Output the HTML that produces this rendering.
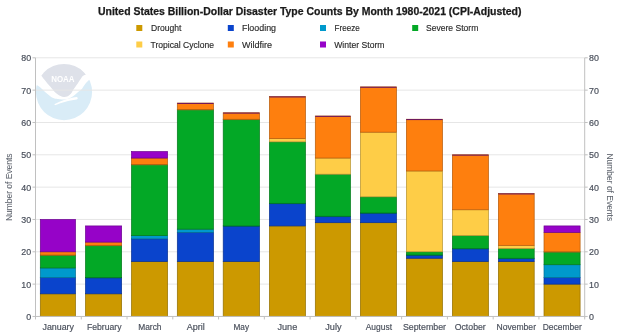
<!DOCTYPE html>
<html><head><meta charset="utf-8">
<style>
html,body{margin:0;padding:0;background:#fff;width:620px;height:335px;overflow:hidden}
svg{display:block;will-change:transform}
text{font-family:"Liberation Sans",sans-serif}
.title{font-size:10.3px;font-weight:bold;fill:#1a1a1a;stroke:#1a1a1a;stroke-width:0.25px}
.lg{font-size:9.0px;fill:#2a2a2a;stroke:#2a2a2a;stroke-width:0.15px}
.ax{font-size:8.9px;fill:#4a505c;stroke:#4a505c;stroke-width:0.18px}
.xl{font-size:9.1px;fill:#4a505c;stroke:#4a505c;stroke-width:0.18px}
.at{font-size:8.7px;fill:#5a606a;stroke:#5a606a;stroke-width:0.05px}
</style></head><body>
<svg width="620" height="335" viewBox="0 0 620 335">
<rect width="620" height="335" fill="#fff"/>
<defs><clipPath id="lc"><circle cx="64" cy="92.05" r="28.1"/></clipPath></defs>
<g clip-path="url(#lc)">
<path d="M28 130 L100 130 L100 76 L89.4 79.4 C88.80 80.03 86.73 82.10 85.80 83.20 C84.87 84.30 84.55 84.93 83.80 86.00 C83.05 87.07 82.48 88.40 81.30 89.60 C80.12 90.80 78.02 92.13 76.70 93.20 C75.38 94.27 74.60 95.17 73.40 96.00 C72.20 96.83 70.90 97.62 69.50 98.20 C68.10 98.78 66.58 99.32 65.00 99.50 C63.42 99.68 61.38 99.42 60.00 99.30 C58.62 99.17 58.03 99.07 56.70 98.75 C55.37 98.43 53.78 98.41 52.00 97.40 C50.22 96.39 47.93 94.35 46.00 92.70 C44.07 91.05 42.05 88.88 40.40 87.50 C38.75 86.12 36.82 84.92 36.10 84.40 L28 84 Z" fill="#d9ecf7"/>
<path d="M40.3 74.2 A28.1 28.1 0 0 1 86.1 74.4 C85.55 74.67 83.77 75.13 82.80 76.00 C81.83 76.87 81.12 78.40 80.30 79.60 C79.48 80.80 78.72 82.01 77.90 83.20 C77.08 84.39 76.15 85.68 75.40 86.75 C74.65 87.82 74.00 88.64 73.40 89.60 C72.80 90.56 72.40 91.63 71.80 92.50 C71.20 93.37 70.57 94.15 69.80 94.80 C69.03 95.45 68.17 96.05 67.20 96.40 C66.23 96.75 65.12 96.98 64.00 96.90 C62.88 96.82 61.58 96.35 60.50 95.90 C59.42 95.45 58.42 94.82 57.50 94.20 C56.58 93.58 55.80 92.98 55.00 92.20 C54.20 91.42 53.47 90.41 52.70 89.50 C51.93 88.59 51.32 87.80 50.40 86.75 C49.48 85.70 48.22 84.39 47.20 83.20 C46.18 82.01 45.23 80.80 44.30 79.60 C43.37 78.40 42.27 76.90 41.60 76.00 C40.93 75.10 40.52 74.50 40.30 74.20 Z" fill="#dee1e9"/>
<path d="M54.8 104 C58 102.4 61 101.1 64 100 C68 98.8 72 97.8 76.6 97.1 C78.2 97.3 78.2 99.2 76.6 99.6 C72.5 100.2 69 100.8 65.5 101.7 C62 102.6 58.5 104 55.6 105.1 C54.6 105.3 54.2 104.5 54.8 104 Z" fill="#fff"/>
</g>
<text x="51.2" y="82" font-family="Liberation Sans" font-weight="bold" font-size="9.8" fill="#fff" textLength="23.3" lengthAdjust="spacingAndGlyphs">NOAA</text>
<line x1="35.5" y1="284.12" x2="584.7" y2="284.12" stroke="#e6e6e6" stroke-width="1"/>
<line x1="35.5" y1="251.79" x2="584.7" y2="251.79" stroke="#e6e6e6" stroke-width="1"/>
<line x1="35.5" y1="219.45999999999998" x2="584.7" y2="219.45999999999998" stroke="#e6e6e6" stroke-width="1"/>
<line x1="35.5" y1="187.13" x2="584.7" y2="187.13" stroke="#e6e6e6" stroke-width="1"/>
<line x1="35.5" y1="154.79999999999998" x2="584.7" y2="154.79999999999998" stroke="#e6e6e6" stroke-width="1"/>
<line x1="35.5" y1="122.46999999999997" x2="584.7" y2="122.46999999999997" stroke="#e6e6e6" stroke-width="1"/>
<line x1="35.5" y1="90.13999999999999" x2="584.7" y2="90.13999999999999" stroke="#e6e6e6" stroke-width="1"/>
<line x1="35.5" y1="57.81" x2="584.7" y2="57.81" stroke="#e6e6e6" stroke-width="1"/>
<rect x="40.30" y="293.82" width="35.20" height="22.63" fill="#cc9900" stroke="#926e00" stroke-width="0.7"/>
<rect x="40.30" y="277.65" width="35.20" height="16.16" fill="#0a44cc" stroke="#073092" stroke-width="0.7"/>
<rect x="40.30" y="267.95" width="35.20" height="9.70" fill="#0099cc" stroke="#006e92" stroke-width="0.7"/>
<rect x="40.30" y="255.02" width="35.20" height="12.93" fill="#03a826" stroke="#02781b" stroke-width="0.7"/>
<line x1="40.30" y1="255.37" x2="75.50" y2="255.37" stroke="#8b7027" stroke-opacity="0.85" stroke-width="1"/>
<rect x="40.30" y="251.79" width="35.20" height="3.23" fill="#fe7f0e" stroke="#b65b0a" stroke-width="0.7"/>
<rect x="40.30" y="219.46" width="35.20" height="32.33" fill="#9603c8" stroke="#6c0290" stroke-width="0.7"/>
<rect x="85.50" y="293.82" width="36.15" height="22.63" fill="#cc9900" stroke="#926e00" stroke-width="0.7"/>
<rect x="85.50" y="277.65" width="36.15" height="16.16" fill="#0a44cc" stroke="#073092" stroke-width="0.7"/>
<line x1="85.50" y1="278.00" x2="121.65" y2="278.00" stroke="#005470" stroke-opacity="0.85" stroke-width="1"/>
<rect x="85.50" y="245.32" width="36.15" height="32.33" fill="#03a826" stroke="#02781b" stroke-width="0.7"/>
<line x1="85.50" y1="245.67" x2="121.65" y2="245.67" stroke="#8b7027" stroke-opacity="0.85" stroke-width="1"/>
<rect x="85.50" y="242.09" width="36.15" height="3.23" fill="#fe7f0e" stroke="#b65b0a" stroke-width="0.7"/>
<rect x="85.50" y="225.93" width="36.15" height="16.16" fill="#9603c8" stroke="#6c0290" stroke-width="0.7"/>
<rect x="131.50" y="261.49" width="36.10" height="54.96" fill="#cc9900" stroke="#926e00" stroke-width="0.7"/>
<rect x="131.50" y="238.86" width="36.10" height="22.63" fill="#0a44cc" stroke="#073092" stroke-width="0.7"/>
<rect x="131.50" y="235.62" width="36.10" height="3.23" fill="#0099cc" stroke="#006e92" stroke-width="0.7"/>
<rect x="131.50" y="164.50" width="36.10" height="71.13" fill="#03a826" stroke="#02781b" stroke-width="0.7"/>
<line x1="131.50" y1="164.85" x2="167.60" y2="164.85" stroke="#8b7027" stroke-opacity="0.85" stroke-width="1"/>
<rect x="131.50" y="158.03" width="36.10" height="6.47" fill="#fe7f0e" stroke="#b65b0a" stroke-width="0.7"/>
<rect x="131.50" y="151.57" width="36.10" height="6.47" fill="#9603c8" stroke="#6c0290" stroke-width="0.7"/>
<rect x="177.30" y="261.49" width="36.20" height="54.96" fill="#cc9900" stroke="#926e00" stroke-width="0.7"/>
<rect x="177.30" y="232.39" width="36.20" height="29.10" fill="#0a44cc" stroke="#073092" stroke-width="0.7"/>
<rect x="177.30" y="229.16" width="36.20" height="3.23" fill="#0099cc" stroke="#006e92" stroke-width="0.7"/>
<rect x="177.30" y="109.54" width="36.20" height="119.62" fill="#03a826" stroke="#02781b" stroke-width="0.7"/>
<line x1="177.30" y1="109.89" x2="213.50" y2="109.89" stroke="#8b7027" stroke-opacity="0.85" stroke-width="1"/>
<rect x="177.30" y="103.07" width="36.20" height="6.47" fill="#fe7f0e" stroke="#b65b0a" stroke-width="0.7"/>
<line x1="177.30" y1="103.42" x2="213.50" y2="103.42" stroke="#52016e" stroke-opacity="0.85" stroke-width="1"/>
<rect x="223.20" y="261.49" width="36.30" height="54.96" fill="#cc9900" stroke="#926e00" stroke-width="0.7"/>
<rect x="223.20" y="225.93" width="36.30" height="35.56" fill="#0a44cc" stroke="#073092" stroke-width="0.7"/>
<line x1="223.20" y1="226.28" x2="259.50" y2="226.28" stroke="#005470" stroke-opacity="0.85" stroke-width="1"/>
<rect x="223.20" y="119.24" width="36.30" height="106.69" fill="#03a826" stroke="#02781b" stroke-width="0.7"/>
<line x1="223.20" y1="119.59" x2="259.50" y2="119.59" stroke="#8b7027" stroke-opacity="0.85" stroke-width="1"/>
<rect x="223.20" y="112.77" width="36.30" height="6.47" fill="#fe7f0e" stroke="#b65b0a" stroke-width="0.7"/>
<line x1="223.20" y1="113.12" x2="259.50" y2="113.12" stroke="#52016e" stroke-opacity="0.85" stroke-width="1"/>
<rect x="269.40" y="225.93" width="36.10" height="90.52" fill="#cc9900" stroke="#926e00" stroke-width="0.7"/>
<rect x="269.40" y="203.29" width="36.10" height="22.63" fill="#0a44cc" stroke="#073092" stroke-width="0.7"/>
<line x1="269.40" y1="203.64" x2="305.50" y2="203.64" stroke="#005470" stroke-opacity="0.85" stroke-width="1"/>
<rect x="269.40" y="141.87" width="36.10" height="61.43" fill="#03a826" stroke="#02781b" stroke-width="0.7"/>
<rect x="269.40" y="138.63" width="36.10" height="3.23" fill="#fecd47" stroke="#b69333" stroke-width="0.7"/>
<rect x="269.40" y="96.61" width="36.10" height="42.03" fill="#fe7f0e" stroke="#b65b0a" stroke-width="0.7"/>
<line x1="269.40" y1="96.96" x2="305.50" y2="96.96" stroke="#52016e" stroke-opacity="0.85" stroke-width="1"/>
<rect x="315.30" y="222.69" width="35.20" height="93.76" fill="#cc9900" stroke="#926e00" stroke-width="0.7"/>
<rect x="315.30" y="216.23" width="35.20" height="6.47" fill="#0a44cc" stroke="#073092" stroke-width="0.7"/>
<line x1="315.30" y1="216.58" x2="350.50" y2="216.58" stroke="#005470" stroke-opacity="0.85" stroke-width="1"/>
<rect x="315.30" y="174.20" width="35.20" height="42.03" fill="#03a826" stroke="#02781b" stroke-width="0.7"/>
<rect x="315.30" y="158.03" width="35.20" height="16.16" fill="#fecd47" stroke="#b69333" stroke-width="0.7"/>
<rect x="315.30" y="116.00" width="35.20" height="42.03" fill="#fe7f0e" stroke="#b65b0a" stroke-width="0.7"/>
<line x1="315.30" y1="116.35" x2="350.50" y2="116.35" stroke="#52016e" stroke-opacity="0.85" stroke-width="1"/>
<rect x="360.35" y="222.69" width="36.15" height="93.76" fill="#cc9900" stroke="#926e00" stroke-width="0.7"/>
<rect x="360.35" y="212.99" width="36.15" height="9.70" fill="#0a44cc" stroke="#073092" stroke-width="0.7"/>
<line x1="360.35" y1="213.34" x2="396.50" y2="213.34" stroke="#005470" stroke-opacity="0.85" stroke-width="1"/>
<rect x="360.35" y="196.83" width="36.15" height="16.16" fill="#03a826" stroke="#02781b" stroke-width="0.7"/>
<rect x="360.35" y="132.17" width="36.15" height="64.66" fill="#fecd47" stroke="#b69333" stroke-width="0.7"/>
<rect x="360.35" y="86.91" width="36.15" height="45.26" fill="#fe7f0e" stroke="#b65b0a" stroke-width="0.7"/>
<line x1="360.35" y1="87.26" x2="396.50" y2="87.26" stroke="#52016e" stroke-opacity="0.85" stroke-width="1"/>
<rect x="406.35" y="258.26" width="36.15" height="58.19" fill="#cc9900" stroke="#926e00" stroke-width="0.7"/>
<rect x="406.35" y="255.02" width="36.15" height="3.23" fill="#0a44cc" stroke="#073092" stroke-width="0.7"/>
<line x1="406.35" y1="255.37" x2="442.50" y2="255.37" stroke="#005470" stroke-opacity="0.85" stroke-width="1"/>
<rect x="406.35" y="251.79" width="36.15" height="3.23" fill="#03a826" stroke="#02781b" stroke-width="0.7"/>
<rect x="406.35" y="170.96" width="36.15" height="80.83" fill="#fecd47" stroke="#b69333" stroke-width="0.7"/>
<rect x="406.35" y="119.24" width="36.15" height="51.73" fill="#fe7f0e" stroke="#b65b0a" stroke-width="0.7"/>
<line x1="406.35" y1="119.59" x2="442.50" y2="119.59" stroke="#52016e" stroke-opacity="0.85" stroke-width="1"/>
<rect x="452.35" y="261.49" width="36.15" height="54.96" fill="#cc9900" stroke="#926e00" stroke-width="0.7"/>
<rect x="452.35" y="248.56" width="36.15" height="12.93" fill="#0a44cc" stroke="#073092" stroke-width="0.7"/>
<line x1="452.35" y1="248.91" x2="488.50" y2="248.91" stroke="#005470" stroke-opacity="0.85" stroke-width="1"/>
<rect x="452.35" y="235.62" width="36.15" height="12.93" fill="#03a826" stroke="#02781b" stroke-width="0.7"/>
<rect x="452.35" y="209.76" width="36.15" height="25.86" fill="#fecd47" stroke="#b69333" stroke-width="0.7"/>
<rect x="452.35" y="154.80" width="36.15" height="54.96" fill="#fe7f0e" stroke="#b65b0a" stroke-width="0.7"/>
<line x1="452.35" y1="155.15" x2="488.50" y2="155.15" stroke="#52016e" stroke-opacity="0.85" stroke-width="1"/>
<rect x="498.35" y="261.49" width="35.85" height="54.96" fill="#cc9900" stroke="#926e00" stroke-width="0.7"/>
<rect x="498.35" y="258.26" width="35.85" height="3.23" fill="#0a44cc" stroke="#073092" stroke-width="0.7"/>
<line x1="498.35" y1="258.61" x2="534.20" y2="258.61" stroke="#005470" stroke-opacity="0.85" stroke-width="1"/>
<rect x="498.35" y="248.56" width="35.85" height="9.70" fill="#03a826" stroke="#02781b" stroke-width="0.7"/>
<rect x="498.35" y="245.32" width="35.85" height="3.23" fill="#fecd47" stroke="#b69333" stroke-width="0.7"/>
<rect x="498.35" y="193.60" width="35.85" height="51.73" fill="#fe7f0e" stroke="#b65b0a" stroke-width="0.7"/>
<line x1="498.35" y1="193.95" x2="534.20" y2="193.95" stroke="#52016e" stroke-opacity="0.85" stroke-width="1"/>
<rect x="544.00" y="284.12" width="36.10" height="32.33" fill="#cc9900" stroke="#926e00" stroke-width="0.7"/>
<rect x="544.00" y="277.65" width="36.10" height="6.47" fill="#0a44cc" stroke="#073092" stroke-width="0.7"/>
<rect x="544.00" y="264.72" width="36.10" height="12.93" fill="#0099cc" stroke="#006e92" stroke-width="0.7"/>
<rect x="544.00" y="251.79" width="36.10" height="12.93" fill="#03a826" stroke="#02781b" stroke-width="0.7"/>
<line x1="544.00" y1="252.14" x2="580.10" y2="252.14" stroke="#8b7027" stroke-opacity="0.85" stroke-width="1"/>
<rect x="544.00" y="232.39" width="36.10" height="19.40" fill="#fe7f0e" stroke="#b65b0a" stroke-width="0.7"/>
<rect x="544.00" y="225.93" width="36.10" height="6.47" fill="#9603c8" stroke="#6c0290" stroke-width="0.7"/>
<line x1="35.5" y1="57.81" x2="35.5" y2="317.45" stroke="#c0c0c0" stroke-width="1"/>
<line x1="584.7" y1="57.81" x2="584.7" y2="317.45" stroke="#c0c0c0" stroke-width="1"/>
<line x1="35.5" y1="316.45" x2="584.7" y2="316.45" stroke="#c0c0c0" stroke-width="1"/>
<line x1="32.5" y1="316.45" x2="35.5" y2="316.45" stroke="#c0c0c0"/>
<line x1="584.7" y1="316.45" x2="587.7" y2="316.45" stroke="#c0c0c0"/>
<text x="31.2" y="319.95" text-anchor="end" class="ax">0</text>
<text x="589.0" y="319.95" text-anchor="start" class="ax">0</text>
<line x1="32.5" y1="284.12" x2="35.5" y2="284.12" stroke="#c0c0c0"/>
<line x1="584.7" y1="284.12" x2="587.7" y2="284.12" stroke="#c0c0c0"/>
<text x="31.2" y="287.62" text-anchor="end" class="ax">10</text>
<text x="589.0" y="287.62" text-anchor="start" class="ax">10</text>
<line x1="32.5" y1="251.79" x2="35.5" y2="251.79" stroke="#c0c0c0"/>
<line x1="584.7" y1="251.79" x2="587.7" y2="251.79" stroke="#c0c0c0"/>
<text x="31.2" y="255.29" text-anchor="end" class="ax">20</text>
<text x="589.0" y="255.29" text-anchor="start" class="ax">20</text>
<line x1="32.5" y1="219.45999999999998" x2="35.5" y2="219.45999999999998" stroke="#c0c0c0"/>
<line x1="584.7" y1="219.45999999999998" x2="587.7" y2="219.45999999999998" stroke="#c0c0c0"/>
<text x="31.2" y="222.96" text-anchor="end" class="ax">30</text>
<text x="589.0" y="222.96" text-anchor="start" class="ax">30</text>
<line x1="32.5" y1="187.13" x2="35.5" y2="187.13" stroke="#c0c0c0"/>
<line x1="584.7" y1="187.13" x2="587.7" y2="187.13" stroke="#c0c0c0"/>
<text x="31.2" y="190.63" text-anchor="end" class="ax">40</text>
<text x="589.0" y="190.63" text-anchor="start" class="ax">40</text>
<line x1="32.5" y1="154.79999999999998" x2="35.5" y2="154.79999999999998" stroke="#c0c0c0"/>
<line x1="584.7" y1="154.79999999999998" x2="587.7" y2="154.79999999999998" stroke="#c0c0c0"/>
<text x="31.2" y="158.30" text-anchor="end" class="ax">50</text>
<text x="589.0" y="158.30" text-anchor="start" class="ax">50</text>
<line x1="32.5" y1="122.46999999999997" x2="35.5" y2="122.46999999999997" stroke="#c0c0c0"/>
<line x1="584.7" y1="122.46999999999997" x2="587.7" y2="122.46999999999997" stroke="#c0c0c0"/>
<text x="31.2" y="125.97" text-anchor="end" class="ax">60</text>
<text x="589.0" y="125.97" text-anchor="start" class="ax">60</text>
<line x1="32.5" y1="90.13999999999999" x2="35.5" y2="90.13999999999999" stroke="#c0c0c0"/>
<line x1="584.7" y1="90.13999999999999" x2="587.7" y2="90.13999999999999" stroke="#c0c0c0"/>
<text x="31.2" y="93.64" text-anchor="end" class="ax">70</text>
<text x="589.0" y="93.64" text-anchor="start" class="ax">70</text>
<line x1="32.5" y1="57.81" x2="35.5" y2="57.81" stroke="#c0c0c0"/>
<line x1="584.7" y1="57.81" x2="587.7" y2="57.81" stroke="#c0c0c0"/>
<text x="31.2" y="61.31" text-anchor="end" class="ax">80</text>
<text x="589.0" y="61.31" text-anchor="start" class="ax">80</text>
<line x1="35.50" y1="316.45" x2="35.50" y2="319.45" stroke="#c0c0c0"/>
<line x1="81.27" y1="316.45" x2="81.27" y2="319.45" stroke="#c0c0c0"/>
<line x1="127.03" y1="316.45" x2="127.03" y2="319.45" stroke="#c0c0c0"/>
<line x1="172.80" y1="316.45" x2="172.80" y2="319.45" stroke="#c0c0c0"/>
<line x1="218.57" y1="316.45" x2="218.57" y2="319.45" stroke="#c0c0c0"/>
<line x1="264.33" y1="316.45" x2="264.33" y2="319.45" stroke="#c0c0c0"/>
<line x1="310.10" y1="316.45" x2="310.10" y2="319.45" stroke="#c0c0c0"/>
<line x1="355.87" y1="316.45" x2="355.87" y2="319.45" stroke="#c0c0c0"/>
<line x1="401.63" y1="316.45" x2="401.63" y2="319.45" stroke="#c0c0c0"/>
<line x1="447.40" y1="316.45" x2="447.40" y2="319.45" stroke="#c0c0c0"/>
<line x1="493.17" y1="316.45" x2="493.17" y2="319.45" stroke="#c0c0c0"/>
<line x1="538.93" y1="316.45" x2="538.93" y2="319.45" stroke="#c0c0c0"/>
<line x1="584.70" y1="316.45" x2="584.70" y2="319.45" stroke="#c0c0c0"/>
<text transform="translate(12.2,187.3) rotate(-90)" text-anchor="middle" class="at" textLength="67.6" lengthAdjust="spacingAndGlyphs">Number of Events</text>
<text transform="translate(607,187.3) rotate(90)" text-anchor="middle" class="at" textLength="67.6" lengthAdjust="spacingAndGlyphs">Number of Events</text>
<text x="98.00" y="15.0" class="title" textLength="423.50" lengthAdjust="spacingAndGlyphs">United States Billion-Dollar Disaster Type Counts By Month 1980-2021 (CPI-Adjusted)</text>
<text x="150.98" y="31.25" class="lg" textLength="30.50" lengthAdjust="spacingAndGlyphs">Drought</text>
<text x="241.96" y="31.25" class="lg" textLength="34.06" lengthAdjust="spacingAndGlyphs">Flooding</text>
<text x="334.48" y="31.25" class="lg" textLength="25.32" lengthAdjust="spacingAndGlyphs">Freeze</text>
<text x="425.94" y="31.25" class="lg" textLength="52.36" lengthAdjust="spacingAndGlyphs">Severe Storm</text>
<text x="150.48" y="48.45" class="lg" textLength="63.54" lengthAdjust="spacingAndGlyphs">Tropical Cyclone</text>
<text x="242.00" y="48.45" class="lg" textLength="30.04" lengthAdjust="spacingAndGlyphs">Wildfire</text>
<text x="334.24" y="48.45" class="lg" textLength="50.28" lengthAdjust="spacingAndGlyphs">Winter Storm</text>
<text x="42.46" y="330.2" class="xl" textLength="31.54" lengthAdjust="spacingAndGlyphs">January</text>
<text x="86.98" y="330.2" class="xl" textLength="34.52" lengthAdjust="spacingAndGlyphs">February</text>
<text x="138.22" y="330.2" class="xl" textLength="23.30" lengthAdjust="spacingAndGlyphs">March</text>
<text x="186.74" y="330.2" class="xl" textLength="18.04" lengthAdjust="spacingAndGlyphs">April</text>
<text x="233.46" y="330.2" class="xl" textLength="15.54" lengthAdjust="spacingAndGlyphs">May</text>
<text x="277.46" y="330.2" class="xl" textLength="19.84" lengthAdjust="spacingAndGlyphs">June</text>
<text x="325.22" y="330.2" class="xl" textLength="16.30" lengthAdjust="spacingAndGlyphs">July</text>
<text x="365.74" y="330.2" class="xl" textLength="26.26" lengthAdjust="spacingAndGlyphs">August</text>
<text x="402.96" y="330.2" class="xl" textLength="43.06" lengthAdjust="spacingAndGlyphs">September</text>
<text x="454.72" y="330.2" class="xl" textLength="31.04" lengthAdjust="spacingAndGlyphs">October</text>
<text x="496.48" y="330.2" class="xl" textLength="39.52" lengthAdjust="spacingAndGlyphs">November</text>
<text x="542.72" y="330.2" class="xl" textLength="39.02" lengthAdjust="spacingAndGlyphs">December</text>
<rect x="136.3" y="25.0" width="6" height="6" fill="#cc9900"/>
<rect x="227.8" y="25.0" width="6" height="6" fill="#0a44cc"/>
<rect x="320.0" y="25.0" width="6" height="6" fill="#0099cc"/>
<rect x="412.2" y="25.0" width="6" height="6" fill="#03a826"/>
<rect x="136.3" y="41.5" width="6" height="6" fill="#fecd47"/>
<rect x="227.8" y="41.5" width="6" height="6" fill="#fe7f0e"/>
<rect x="320.0" y="41.5" width="6" height="6" fill="#9603c8"/>
</svg>
</body></html>
